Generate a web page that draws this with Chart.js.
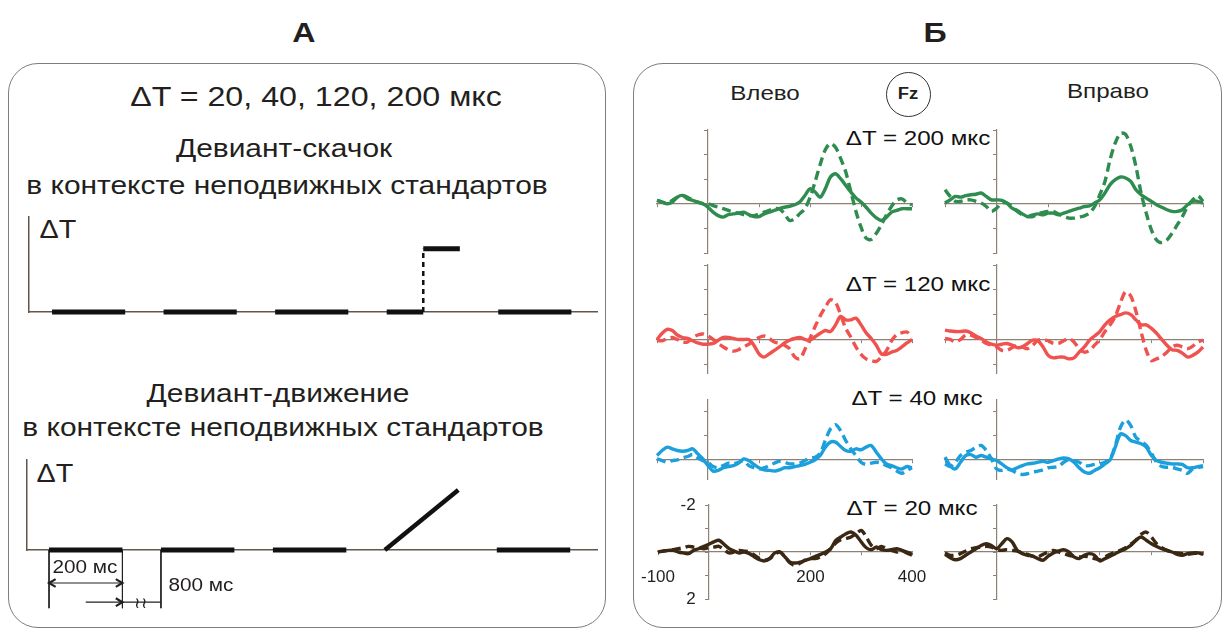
<!DOCTYPE html>
<html lang="ru">
<head>
    <meta charset="UTF-8">
    <meta name="viewport" content="width=device-width, initial-scale=1.0">
    <title>Девиант-скачок и девиант-движение</title>
    <style>
        body {
            margin: 0;
            background: #fff;
            font-family: 'Liberation Sans', Arial, sans-serif;
            color: #231f20;
        }

        #page {
            position: relative;
            width: 1227px;
            height: 630px;
            overflow: hidden;
        }

        /* рамки панелей */
        .frame {
            position: absolute;
            box-sizing: border-box;
            border: 1.5px solid #7d7d7d;
            border-radius: 30px;
        }

        /* подписи: исходная картинка немного растянута по горизонтали */
        .t {
            position: absolute;
            white-space: nowrap;
            line-height: 1;
            transform: translate(-50%, -50%) scaleX(1.15);
        }

        .box {
            position: absolute;
        }

        .fz {
            position: absolute;
            box-sizing: border-box;
            width: 45px;
            height: 45px;
            border: 1.5px solid #333;
            border-radius: 50%;
        }
    </style>
</head>
<body>
<div id="page">

    <div class="frame" style="left:8px; top:63px; width:598px; height:565px;"></div>
    <div class="frame" style="left:633px; top:63px; width:589px; height:565px;"></div>

    <!-- Панель А -->
    <div class="t" style="left:304px; top:33px; font-size:28px; font-weight:bold;">А</div>
    <div class="t" style="left:316px; top:97px; font-size:28px;">ΔT = 20, 40, 120, 200 мкс</div>
    <div class="t" style="left:284px; top:148px; font-size:26px;">Девиант-скачок</div>
    <div class="t" style="left:287px; top:185px; font-size:26px;">в контексте неподвижных стандартов</div>
    <div class="t" style="left:58px; top:229px; font-size:25px;">ΔT</div>
    <div class="box" style="left:17px; top:205px; width:592px; height:119px;"><canvas id="jumpChart"></canvas></div>

    <div class="t" style="left:278px; top:393px; font-size:26px;">Девиант-движение</div>
    <div class="t" style="left:283px; top:427px; font-size:26px;">в контексте неподвижных стандартов</div>
    <div class="t" style="left:55px; top:473px; font-size:25px;">ΔT</div>
    <div class="box" style="left:17px; top:450px; width:590px; height:170px;"><canvas id="motionChart"></canvas></div>
    <div class="t" style="left:85px; top:567px; font-size:18px;">200 мс</div>
    <div class="t" style="left:201px; top:585px; font-size:18px;">800 мс</div>
    <div class="t" style="left:141px; top:602px; font-size:15px;">≀≀</div>

    <!-- Панель Б -->
    <div class="t" style="left:935px; top:33px; font-size:28px; font-weight:bold;">Б</div>
    <div class="t" style="left:765px; top:92px; font-size:21px;">Влево</div>
    <div class="t" style="left:1108px; top:90px; font-size:21px;">Вправо</div>
    <div class="fz" style="left:886px; top:72px;"></div>
    <div class="t" style="left:908px; top:94px; font-size:16px; font-weight:bold;">Fz</div>
    <div class="t" style="left:918px; top:137px; font-size:21px; color:#111;">ΔT = 200 мкс</div>
    <div class="t" style="left:918px; top:283px; font-size:21px; color:#111;">ΔT = 120 мкс</div>
    <div class="t" style="left:917px; top:397px; font-size:21px; color:#111;">ΔT = 40 мкс</div>
    <div class="t" style="left:912px; top:507px; font-size:21px; color:#111;">ΔT = 20 мкс</div>

    <div class="box" style="left:629px; top:102px; width:311px; height:179px;"><canvas id="green200L"></canvas></div>
    <div class="box" style="left:917px; top:102px; width:314px; height:179px;"><canvas id="green200R"></canvas></div>
    <div class="box" style="left:629px; top:237px; width:311px; height:164px;"><canvas id="red120L"></canvas></div>
    <div class="box" style="left:917px; top:237px; width:314px; height:164px;"><canvas id="red120R"></canvas></div>
    <div class="box" style="left:629px; top:372px; width:311px; height:135px;"><canvas id="blue40L"></canvas></div>
    <div class="box" style="left:917px; top:372px; width:314px; height:135px;"><canvas id="blue40R"></canvas></div>
    <div class="box" style="left:629px; top:477px; width:311px; height:150px;"><canvas id="brown20L"></canvas></div>
    <div class="box" style="left:917px; top:477px; width:314px; height:150px;"><canvas id="brown20R"></canvas></div>
</div>

<script src="https://cdn.jsdelivr.net/npm/chart.js"></script>
<script>
    // ---------- данные: схема стимуляции (панель А) ----------
    const stimOnsets = [0, 305, 610, 915, 1220];   // начало стимулов, усл. мс (800 мс паузы сжаты)
    const stimDuration = 200;                      // длительность стимула, мс
    const deviantIndex = 3;                        // четвертый стимул - девиант
    const jumpAt = 100;                            // скачок в середине стимула
    const deviantLevel = 1;                        // величина ΔT у девианта (усл. ед.)

    // ---------- данные: ВП в Fz (панель Б), мкВ, негативность вверх ----------
    const times = [-100, -90, -80, -70, -60, -50, -40, -30, -20, -10,
        0, 10, 20, 30, 40, 50, 60, 70, 80, 90,
        100, 110, 120, 130, 140, 150, 160, 170, 180, 190,
        200, 210, 220, 230, 240, 250, 260, 270, 280, 290,
        300, 310, 320, 330, 340, 350, 360, 370, 380, 390,
        400];

    // ΔT = 200 мкс
    const green200LeftSolid = [-0.14, -0.07, 0, -0.07, -0.27, -0.34, -0.2, -0.14, -0.07, 0,
        0.14, 0.34, 0.48, 0.54, 0.44, 0.41, 0.38, 0.34, 0.44, 0.52,
        0.52, 0.41, 0.34, 0.27, 0.2, 0.14, 0.1, 0.04, -0.07, -0.34,
        -0.61, -0.48, -0.27, -0.61, -1.09, -1.22, -1.02, -0.75, -0.48, -0.24,
        -0.07, 0.14, 0.38, 0.57, 0.68, 0.54, 0.34, 0.27, 0.2, 0.2,
        0.2];
    const green200LeftDashed = [-0.14, -0.07, -0.03, -0.14, -0.27, -0.34, -0.27, -0.14, -0.07, 0,
        0, 0.07, 0.14, 0.2, 0.27, 0.34, 0.38, 0.44, 0.48, 0.48,
        0.41, 0.34, 0.27, 0.2, 0.2, 0.41, 0.68, 0.6, 0.4, 0.2,
        -0.25, -0.9, -1.6, -2.2, -2.45, -2.3, -1.85, -1.3, -0.5, 0.3,
        0.95, 1.4, 1.45, 1.2, 0.85, 0.45, 0.1, -0.15, -0.2, -0.05,
        0.05];
    const green200RightSolid = [-0.03, -0.16, -0.3, -0.27, -0.33, -0.37, -0.39, -0.44, -0.3, -0.16,
        -0.16, -0.14, -0.03, 0.18, 0.27, 0.41, 0.52, 0.45, 0.41, 0.45,
        0.38, 0.38, 0.45, 0.38, 0.31, 0.24, 0.18, 0.11, 0.08, -0.03,
        -0.16, -0.44, -0.78, -0.98, -1.09, -1.05, -0.91, -0.57, -0.37, -0.23,
        -0.1, 0.04, 0.14, 0.24, 0.31, 0.31, 0.24, 0.04, -0.1, -0.1,
        -0.03];
    const green200RightDashed = [-0.57, -0.3, -0.1, -0.1, -0.16, -0.16, -0.1, -0.03, 0.11, 0.31,
        0.18, -0.03, -0.03, 0.11, 0.31, 0.45, 0.52, 0.52, 0.41, 0.35,
        0.31, 0.31, 0.41, 0.52, 0.58, 0.58, 0.54, 0.49, 0.38, 0.11,
        -0.37, -0.91, -1.8, -2.48, -2.86, -2.82, -2.34, -1.52, -0.44, 0.38,
        1.06, 1.47, 1.58, 1.47, 1.2, 0.86, 0.52, 0.11, -0.16, -0.33,
        -0.1];

    // ΔT = 120 мкс
    const red120LeftSolid = [0, -0.25, -0.41, -0.36, -0.18, -0.08, -0.04, 0.05, 0.14, 0.19,
        0.19, 0.16, 0.03, -0.08, -0.08, -0.04, 0, 0, 0, 0.23,
        0.58, 0.71, 0.58, 0.44, 0.3, 0.14, 0.03, -0.04, -0.08, 0,
        0.03, -0.11, -0.25, -0.36, -0.32, -0.59, -0.93, -0.79, -0.79, -0.86,
        -0.59, -0.27, -0.04, 0.23, 0.58, 0.6, 0.51, 0.44, 0.3, 0.14,
        0];
    const red120LeftDashed = [0.03, 0.05, -0.04, -0.08, 0, 0.1, 0.1, -0.08, -0.18, -0.22,
        -0.14, 0, 0.16, 0.3, 0.41, 0.47, 0.41, 0.3, 0.19, 0.05,
        -0.08, -0.14, -0.04, 0.1, 0.16, 0.23, 0.37, 0.7, 0.78, 0.4,
        -0.04, -0.52, -0.95, -1.3, -1.6, -1.5, -1.0, -0.45, -0.1, 0.3,
        0.6, 0.78, 0.85, 0.88, 0.7, 0.45, 0.05, -0.2, -0.27, -0.3,
        -0.08];
    const red120RightSolid = [-0.38, -0.34, -0.32, -0.32, -0.34, -0.27, -0.14, -0.04, 0.1, 0.19,
        0.23, 0.19, 0.16, 0.23, 0.33, 0.3, 0.16, 0.03, 0.05, 0.3,
        0.64, 0.74, 0.71, 0.71, 0.78, 0.74, 0.51, 0.3, 0.03, -0.14,
        -0.32, -0.59, -0.79, -0.93, -1.0, -1.07, -1.0, -0.79, -0.59, -0.59,
        -0.45, -0.25, 0, 0.23, 0.41, 0.44, 0.55, 0.71, 0.64, 0.51,
        0.3];
    const red120RightDashed = [-0.04, 0, 0.1, 0, -0.18, -0.18, -0.08, 0.03, 0.16, 0.23,
        0.3, 0.44, 0.44, 0.33, 0.23, 0.3, 0.37, 0.23, 0.03, 0,
        0.05, 0.16, 0.16, 0.05, -0.04, 0.1, 0.37, 0.51, 0.44, 0.23,
        0, -0.32, -0.59, -0.93, -1.48, -1.92, -1.75, -1.14, -0.32, 0.44,
        0.85, 0.78, 0.68, 0.51, 0.3, 0.23, 0.3, 0.37, 0.27, 0.1,
        0.03];

    // ΔT = 40 мкс
    const blue40LeftSolid = [-0.18, -0.39, -0.53, -0.46, -0.39, -0.36, -0.39, -0.46, -0.25, -0.04,
        0.24, 0.47, 0.44, 0.33, 0.28, 0.24, 0.14, -0.04, 0.03, 0.19,
        0.33, 0.42, 0.44, 0.47, 0.42, 0.33, 0.33, 0.28, 0.24, 0.19,
        0.1, 0, -0.18, -0.53, -0.74, -0.74, -0.56, -0.39, -0.36, -0.46,
        -0.42, -0.53, -0.6, -0.32, -0.04, 0.17, 0.24, 0.33, 0.38, 0.28,
        0.33];
    const blue40LeftDashed = [-0.04, 0.03, 0.1, 0.03, 0, -0.08, -0.14, -0.22, -0.08, 0.03,
        0.1, 0.28, 0.33, 0.24, 0.14, 0.17, 0.1, 0.03, 0.24, 0.33,
        0.38, 0.33, 0.24, 0.14, 0.06, 0.1, 0.17, 0.17, 0.14, 0.03,
        -0.08, -0.11, -0.28, -0.81, -1.29, -1.47, -1.22, -0.81, -0.46, -0.18,
        0.1, 0.19, 0.14, 0.1, 0.14, 0.24, 0.33, 0.47, 0.56, 0.44,
        0.33];
    const blue40RightSolid = [-0.11, 0.24, 0.38, 0.1, -0.18, -0.22, -0.11, -0.18, -0.11, -0.04,
        0.03, 0.17, 0.33, 0.42, 0.33, 0.24, 0.17, 0.14, 0.1, 0.06,
        0.1, 0.03, -0.04, -0.08, -0.04, 0.1, 0.33, 0.51, 0.56, 0.44,
        0.33, 0.17, 0, -0.53, -1.08, -1.01, -0.81, -0.74, -0.67, -0.53,
        -0.18, 0.03, 0.1, 0.14, 0.17, 0.17, 0.19, 0.33, 0.33, 0.28,
        0.24];
    const blue40RightDashed = [0.17, 0.28, 0.1, -0.18, -0.32, -0.39, -0.53, -0.6, -0.39, -0.04,
        0.38, 0.44, 0.38, 0.44, 0.56, 0.61, 0.58, 0.51, 0.47, 0.42,
        0.33, 0.31, 0.28, 0.1, 0, 0.03, 0.1, 0.24, 0.24, 0.19,
        0.17, 0.1, -0.04, -0.6, -1.36, -1.67, -1.43, -0.94, -0.78, -0.6,
        -0.28, 0.1, 0.28, 0.31, 0.31, 0.38, 0.44, 0.56, 0.38, 0.33,
        0.28];

    // ΔT = 20 мкс
    const brown20LeftSolid = [0, -0.04, -0.07, -0.07, 0, 0.04, 0.07, -0.07, -0.14, -0.24,
        -0.33, -0.43, -0.5, -0.33, -0.14, -0.04, 0.04, 0, 0.07, 0.21,
        0.33, 0.38, 0.28, 0.04, 0, 0.21, 0.43, 0.47, 0.43, 0.35,
        0.28, 0.18, 0.1, 0, -0.14, -0.5, -0.64, -0.78, -0.85, -0.71,
        -0.43, -0.18, -0.1, -0.21, -0.1, -0.07, -0.1, -0.14, -0.07, 0.04,
        0.14];
    const brown20LeftDashed = [0, -0.04, -0.07, -0.1, -0.14, -0.18, -0.24, -0.21, -0.18, -0.14,
        -0.18, -0.21, -0.24, -0.1, 0.04, 0, -0.07, -0.04, 0, 0.14,
        0.28, 0.35, 0.28, 0.1, 0, 0.21, 0.47, 0.57, 0.47, 0.35,
        0.28, 0.28, 0.21, 0.07, -0.14, -0.38, -0.52, -0.57, -0.64, -0.78,
        -0.92, -0.64, -0.28, -0.14, -0.24, -0.14, -0.07, 0, -0.04, 0,
        0.1];
    const brown20RightSolid = [0.1, 0.24, 0.33, 0.28, 0.14, 0, -0.14, -0.28, -0.35, -0.28,
        -0.14, -0.35, -0.57, -0.43, -0.07, 0.07, 0.14, 0.18, 0.28, 0.35,
        0.18, 0.04, -0.04, -0.1, 0, 0.21, 0.28, 0.14, 0.07, 0.14,
        0.38, 0.28, 0.18, 0.07, -0.04, -0.14, -0.28, -0.5, -0.64, -0.5,
        -0.35, -0.24, -0.14, -0.07, 0, 0.1, 0.14, 0.07, 0.04, 0.04,
        0.1];
    const brown20RightDashed = [0.04, 0.14, 0.14, 0.07, -0.04, -0.14, -0.18, -0.21, -0.24, -0.21,
        -0.1, -0.07, -0.1, -0.07, -0.04, 0.04, 0.1, 0.18, 0.21, 0.1,
        0, -0.07, 0, 0.07, 0.14, 0.18, 0.21, 0.18, 0.21, 0.28,
        0.33, 0.21, 0.1, 0, -0.07, -0.18, -0.33, -0.5, -0.75, -0.85,
        -0.64, -0.35, -0.18, -0.07, 0, 0.04, 0.07, 0.1, 0.07, 0.04,
        0.07];

    // подписи осей (только нижний левый график)
    const xTickLabels = [-100, 200, 400];
    const yTickLabels = [-2, 2];

    // ---------- общие настройки ----------
    Chart.defaults.animation = false;
    Chart.defaults.events = [];
    Chart.defaults.font.family = "'Liberation Sans', Arial, sans-serif";
    Chart.defaults.plugins.legend.display = false;
    Chart.defaults.plugins.tooltip.enabled = false;

    const schemeAxis = '#62564a';
    const erpAxis = '#8d8173';

    // ---------- панель А ----------
    function segment(x1, y1, x2, y2, extra) {
        return Object.assign({
            data: [{x: x1, y: y1}, {x: x2, y: y2}],
            borderColor: '#111',
            borderWidth: 5,
            pointRadius: 0,
            borderCapStyle: 'butt',
            clip: false
        }, extra || {});
    }

    // наконечник стрелки: "галочка" из двух коротких отрезков, dir = 1 вправо, -1 влево
    function arrowHead(x, y, dir, color) {
        const dx = 18, dy = 0.065;
        return {
            data: [{x: x - dir * dx, y: y + dy}, {x: x, y: y}, {x: x - dir * dx, y: y - dy}],
            borderColor: color,
            backgroundColor: color,
            borderWidth: 2.2,
            borderJoinStyle: 'miter',
            pointRadius: 0,
            clip: false
        };
    }

    function standardSegments() {
        const list = [];
        stimOnsets.forEach((on, i) => {
            if (i !== deviantIndex) list.push(segment(on, 0, on + stimDuration, 0));
        });
        return list;
    }

    function schemeOptions(xMin, xMax, padding) {
        return {
            responsive: true,
            maintainAspectRatio: false,
            layout: {padding: padding},
            scales: {
                x: {
                    type: 'linear', min: xMin, max: xMax, position: {y: 0},
                    ticks: {display: false},
                    grid: {drawOnChartArea: false, drawTicks: false},
                    border: {color: schemeAxis, width: 1.5}
                },
                y: {
                    type: 'linear', min: 0, max: 1.5, position: {x: xMin},
                    ticks: {display: false},
                    grid: {drawOnChartArea: false, drawTicks: false},
                    border: {color: schemeAxis, width: 1.5}
                }
            }
        };
    }

    // Девиант-скачок
    const dev1 = stimOnsets[deviantIndex];
    new Chart(document.getElementById('jumpChart'), {
        type: 'line',
        data: {
            datasets: standardSegments().concat([
                segment(dev1, 0, dev1 + jumpAt, 0),
                segment(dev1 + jumpAt, 0, dev1 + jumpAt, deviantLevel, {borderWidth: 2.5, borderDash: [5, 4]}),
                segment(dev1 + jumpAt, deviantLevel, dev1 + stimDuration, deviantLevel)
            ])
        },
        options: schemeOptions(-63, 1490, 12)
    });

    // Девиант-движение + размерные линии
    const dimColor = '#222';
    const arrowY = -0.55;
    const gapY = -0.87;
    const tickDown = -0.97;
    new Chart(document.getElementById('motionChart'), {
        type: 'line',
        data: {
            datasets: standardSegments().concat([
                segment(dev1, 0, dev1 + stimDuration, deviantLevel, {borderWidth: 4.5}),
                // выносные линии
                segment(stimOnsets[0], 0, stimOnsets[0], tickDown, {borderWidth: 1, borderColor: dimColor}),
                segment(stimDuration, 0, stimDuration, tickDown, {borderWidth: 1, borderColor: dimColor}),
                segment(stimOnsets[1], 0, stimOnsets[1], tickDown, {borderWidth: 1, borderColor: dimColor}),
                // 200 мс
                segment(stimOnsets[0], arrowY, stimDuration, arrowY, {borderWidth: 1.2, borderColor: dimColor}),
                arrowHead(stimOnsets[0], arrowY, -1, dimColor),
                arrowHead(stimDuration, arrowY, 1, dimColor),
                // 800 мс
                segment(100, gapY, stimDuration, gapY, {borderWidth: 1.2, borderColor: dimColor}),
                arrowHead(stimDuration, gapY, 1, dimColor),
                segment(stimDuration, gapY, stimOnsets[1], gapY, {borderWidth: 1.2, borderColor: dimColor})
            ])
        },
        options: schemeOptions(-60, 1493, {left: 10, right: 10, top: 10, bottom: 70})
    });

    // ---------- панель Б ----------
    function toPoints(values) {
        return values.map((v, i) => ({x: times[i], y: v}));
    }

    function erpChart(id, solid, dashed, color, yMin, yMax, withLabels) {
        const labelFont = {size: 17};
        return new Chart(document.getElementById(id), {
            type: 'line',
            data: {
                datasets: [
                    {data: toPoints(dashed), borderColor: color, borderWidth: 3.4, borderDash: [9, 5],
                        pointRadius: 0, tension: 0.3, clip: false},
                    {data: toPoints(solid), borderColor: color, borderWidth: 3.4,
                        pointRadius: 0, tension: 0.3, clip: false}
                ]
            },
            options: {
                responsive: true,
                maintainAspectRatio: false,
                layout: {padding: 28},
                scales: {
                    x: {
                        type: 'linear', min: -100, max: 400, position: {y: 0},
                        ticks: {
                            display: withLabels, stepSize: 100, padding: 12,
                            color: '#231f20', font: labelFont, maxRotation: 0,
                            callback: v => xTickLabels.includes(v) ? String(v) : ''
                        },
                        grid: {drawOnChartArea: false, drawTicks: true, tickLength: 3, color: erpAxis},
                        border: {color: erpAxis, width: 1.2}
                    },
                    y: {
                        type: 'linear', min: yMin, max: yMax, reverse: true, position: {x: 0},
                        ticks: {
                            display: withLabels, stepSize: 1, includeBounds: false,
                            color: '#231f20', font: labelFont,
                            // у оси, поставленной по x = 0, Chart.js не делает отступ - добавим пробелы
                            callback: v => yTickLabels.includes(v) ? String(v) + '\u2002 ' : ''
                        },
                        grid: {drawOnChartArea: false, drawTicks: true, tickLength: 3, color: erpAxis},
                        border: {color: erpAxis, width: 1.2}
                    }
                }
            }
        });
    }

    const green = '#2f8c4f';
    const red = '#f0524f';
    const blue = '#1c9fdd';
    const brown = '#3a2814';

    erpChart('green200L', green200LeftSolid, green200LeftDashed, green, -3, 2, false);
    erpChart('green200R', green200RightSolid, green200RightDashed, green, -3, 2, false);
    erpChart('red120L', red120LeftSolid, red120LeftDashed, red, -3, 1.35, false);
    erpChart('red120R', red120RightSolid, red120RightDashed, red, -3, 1.35, false);
    erpChart('blue40L', blue40LeftSolid, blue40LeftDashed, blue, -2.5, 0.8, false);
    erpChart('blue40R', blue40RightSolid, blue40RightDashed, blue, -2.5, 0.8, false);
    erpChart('brown20L', brown20LeftSolid, brown20LeftDashed, brown, -2, 2, true);
    erpChart('brown20R', brown20RightSolid, brown20RightDashed, brown, -2, 2, false);
</script>
</body>
</html>
